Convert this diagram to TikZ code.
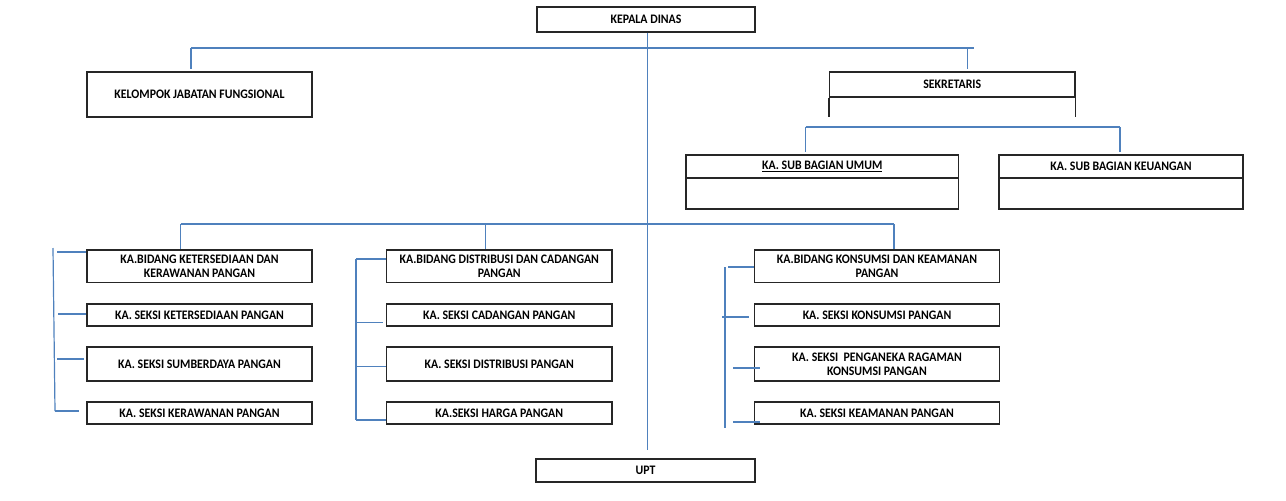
\documentclass[tikz,border=0pt]{standalone}
\usepackage{fontspec}
\setmainfont{Carlito}[FakeStretch=0.91]
\definecolor{linkblue}{RGB}{79,129,189}
\tikzset{
  orgbox/.style={draw=black!85,line width=1.4pt,align=center,inner sep=1pt,
    font=\bfseries\fontsize{13}{14.3}\selectfont},
  link/.style={draw=linkblue,line width=1.2pt}
}
\begin{document}
\begin{tikzpicture}[x=1pt,y=-1pt]
  \useasboundingbox (0,0) rectangle (1286,501);
  % top of the chart
  \begin{scope}[every node/.style={orgbox}]
    \node[minimum width=218,minimum height=25] (kepala) at (646,19.5) {KEPALA DINAS};
    \node[minimum width=225,minimum height=45] (kjf) at (199.5,94.5) {KELOMPOK JABATAN FUNGSIONAL};
    \node[minimum width=245.5,minimum height=25] (sek) at (952.25,84.5) {SEKRETARIS};
    \node[minimum width=272.5,minimum height=23] (umum) at (822.25,166.5) {\underline{KA. SUB BAGIAN UMUM}};
    \node[minimum width=272.5,minimum height=31] (umumbody) at (822.25,193.5) {};
    \node[minimum width=244,minimum height=23] (keu) at (1121,166.5) {KA. SUB BAGIAN KEUANGAN};
    \node[minimum width=244,minimum height=31] (keubody) at (1121,193.5) {};
    \node[minimum width=219,minimum height=23] (upt) at (645.5,470.5) {UPT};
  \end{scope}
  \draw[orgbox] (sek.south west) -- ++(0,19);
  \draw[orgbox] (sek.south east) -- ++(0,19);
  % bidang and seksi
  \begin{scope}[every node/.style={orgbox}]
    \node[minimum width=225,minimum height=32.7] (bid1) at (199.5,266.3) {KA.BIDANG KETERSEDIAAN DAN\\KERAWANAN PANGAN};
    \node[minimum width=225,minimum height=22] (sek1a) at (199.5,315) {KA. SEKSI KETERSEDIAAN PANGAN};
    \node[minimum width=225,minimum height=34] (sek1b) at (199.5,364) {KA. SEKSI SUMBERDAYA PANGAN};
    \node[minimum width=225,minimum height=22] (sek1c) at (199.5,413) {KA. SEKSI KERAWANAN PANGAN};
    \node[minimum width=225.5,minimum height=32.7] (bid2) at (499.25,266.3) {KA.BIDANG DISTRIBUSI DAN CADANGAN\\PANGAN};
    \node[minimum width=225.5,minimum height=22] (sek2a) at (499.25,315) {KA. SEKSI CADANGAN PANGAN};
    \node[minimum width=225.5,minimum height=34] (sek2b) at (499.25,364) {KA. SEKSI DISTRIBUSI PANGAN};
    \node[minimum width=225.5,minimum height=22] (sek2c) at (499.25,413) {KA.SEKSI HARGA PANGAN};
    \node[minimum width=245,minimum height=32.7] (bid3) at (877,266.3) {KA.BIDANG KONSUMSI DAN KEAMANAN\\PANGAN};
    \node[minimum width=245,minimum height=22] (sek3a) at (877,315) {KA. SEKSI KONSUMSI PANGAN};
    \node[minimum width=245,minimum height=34] (sek3b) at (877,364) {KA. SEKSI\ \ PENGANEKA RAGAMAN\\KONSUMSI PANGAN};
    \node[minimum width=245,minimum height=22] (sek3c) at (877,413) {KA. SEKSI KEAMANAN PANGAN};
  \end{scope}
  % connector points
  \coordinate (mainend) at (647.5,450);
  \coordinate (topl) at (191,48);
  \coordinate (topr) at (974,48);
  \coordinate (topd) at (967.5,48);
  \coordinate (sekl) at (805.5,127);
  \coordinate (sekr) at (1120,127);
  \coordinate (lowl) at (180.5,224);
  \coordinate (lowm) at (485.5,224);
  \coordinate (lowr) at (894,224);
  \coordinate (g1top) at (53,248);
  \coordinate (g1bot) at (55,411);
  \coordinate (g1a) at (57,252);
  \coordinate (g1b) at (58,314);
  \coordinate (g1c) at (57,359);
  \coordinate (g2top) at (356,259);
  \coordinate (g2bot) at (356,420);
  \coordinate (g2b) at (356,322.7);
  \coordinate (g2c) at (356,366.7);
  \coordinate (g3top) at (725,267);
  \coordinate (g3bot) at (725,428);
  \coordinate (g3a) at (728,267);
  \coordinate (g3b) at (722,317);
  \coordinate (g3c) at (733,368);
  \coordinate (g3d) at (733,422);
  \begin{scope}[every edge/.style={link}]
    \path (kepala.south -| mainend) edge (mainend);
    \path (topl) edge (topr);
    \path (topl) edge ++(0,21);
    \path (topd) edge ++(0,21);
    \path (sekl) edge (sekr);
    \path (sekl) edge ++(0,25);
    \path (sekr) edge ++(0,25);
    \path (lowl) edge (lowr);
    \path (lowl) edge (lowl |- bid1.north);
    \path (lowm) edge (lowm |- bid2.north);
    \path (lowr) edge (lowr |- bid3.north);
    \path (g1top) edge (g1bot);
    \path (g1a) edge (g1a -| bid1.west);
    \path (g1b) edge (g1b -| sek1a.west);
    \path (g1c) edge ([xshift=-2.5pt]g1c -| sek1b.west);
    \path (g1bot) edge ([xshift=-7pt]g1bot -| sek1c.west);
    \path (g2top) edge (g2bot);
    \path (g2top) edge (g2top -| bid2.west);
    \path (g2b) edge ([xshift=-2.5pt]g2b -| sek2a.west);
    \path (g2c) edge (g2c -| sek2b.west);
    \path (g2bot) edge (g2bot -| sek2c.west);
    \path (g3top) edge (g3bot);
    \path (g3a) edge (g3a -| bid3.west);
    \path (g3b) edge ([xshift=-4.5pt]g3b -| sek3a.west);
    \path (g3c) edge ([xshift=6pt]g3c -| sek3b.west);
    \path (g3d) edge ([xshift=6pt]g3d -| sek3c.west);
  \end{scope}
\end{tikzpicture}
\end{document}
